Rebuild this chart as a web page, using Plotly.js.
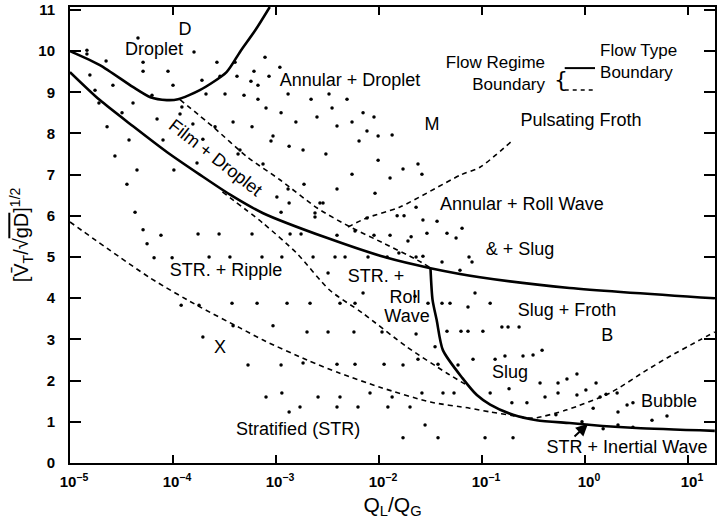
<!DOCTYPE html>
<html><head><meta charset="utf-8">
<script src="https://cdn.plot.ly/plotly-3.0.1.min.js"></script>
<style>body{margin:0;background:#fff}#chart{width:718px;height:526px}</style>
</head><body><div id="chart"></div>
<script>
// ---- Flow type boundaries (solid) ----
const dropletBoundX = [1e-5, 1.95e-5, 4.07e-5, 6.03e-5, 8.71e-5, 1.12e-4, 1.82e-4, 3.31e-4, 4.47e-4, 6.31e-4, 8.7e-4];
const dropletBoundY = [10.0, 9.66, 9.13, 8.88, 8.81, 8.83, 9.05, 9.49, 9.98, 10.51, 11.07];
const filmBoundX = [1e-5, 1.95e-5, 4.07e-5, 8.71e-5, 1.82e-4, 3.55e-4, 7.41e-4, 3.16e-3, 1.20e-2, 3.16e-2, 9.55e-2, 0.708, 18.2];
const filmBoundY = [9.49, 8.81, 8.18, 7.55, 7.00, 6.52, 6.07, 5.46, 4.98, 4.73, 4.51, 4.25, 4.00];
const slugBoundX = [3.16e-2, 3.31e-2, 3.63e-2, 4.17e-2, 6.46e-2, 8.91e-2, 0.120, 0.200, 0.339, 0.708, 1.48, 3.16, 18.2];
const slugBoundY = [4.73, 3.96, 3.47, 2.74, 2.06, 1.65, 1.42, 1.17, 1.04, 0.97, 0.90, 0.85, 0.78];
// ---- Flow regime boundaries (dashed) ----
const lowerDashX = [1e-5, 6.03e-5, 1.82e-4, 4.47e-4, 7.41e-4, 2.0e-3, 4.17e-3, 1.02e-2, 3.16e-2, 7.59e-2, 0.120, 0.200, 0.275, 0.342, 0.668, 1.75, 4.0, 6.25, 13.1, 18.2];
const lowerDashY = [5.85, 4.49, 3.79, 3.28, 2.99, 2.50, 2.18, 1.84, 1.48, 1.33, 1.24, 1.15, 1.09, 1.10, 1.29, 1.70, 2.26, 2.55, 2.99, 3.18];
const filmDashX = [1.17e-4, 2.45e-4, 5.25e-4, 1.10e-3, 2.51e-3, 5.25e-3, 1.10e-2, 2.34e-2, 3.16e-2];
const filmDashY = [8.82, 8.16, 7.43, 6.87, 6.19, 5.73, 5.34, 4.93, 4.74];
const frothDashX = [5.01e-3, 7.59e-3, 1.58e-2, 6.17e-2, 9.55e-2, 0.200];
const frothDashY = [5.73, 5.95, 6.21, 6.99, 7.18, 7.84];
const rippleDashX = [3.02e-4, 7.41e-4, 1.58e-3, 3.31e-3, 6.92e-3, 1.86e-2, 4.57e-2, 7.59e-2];
const rippleDashY = [6.58, 5.83, 5.10, 4.20, 3.64, 2.82, 2.18, 1.85];
// ---- Experimental points ----
const pointsX = [1.46e-5,1.46e-5,4.57e-5,1.60e-4,2.24e-5,5.12e-5,5.12e-5,8.94e-5,2.67e-4,4.00e-4,1.56e-5,2.61e-5,1.00e-4,1.91e-4,2.86e-4,4.18e-4,1.75e-5,6.25e-5,2.09e-4,3.20e-4,1.91e-5,4.09e-5,1.22e-4,3.20e-5,7.00e-5,1.56e-4,2.56e-4,3.83e-4,2.29e-5,3.74e-5,1.95e-4,2.73e-5,4.47e-5,1.02e-4,1.71e-4,4.28e-4,4.89e-4,1.17e-4,8.00e-5,4.47e-4,1.87e-3,1.31e-3,1.02e-3,1.12e-3,2.39e-3,7.82e-4,1.09e-3,5.71e-4,6.11e-4,6.68e-4,8.55e-4,6.68e-4,1.31e-3,2.19e-3,3.27e-3,4.89e-3,8.00e-4,1.12e-3,2.50e-3,3.50e-3,1.56e-3,3.91e-3,5.47e-3,7.00e-3,8.94e-3,5.85e-4,9.35e-4,8.94e-4,7.64e-3,9.80e-3,1.34e-2,6.40e-3,1.34e-3,1.83e-3,3.05e-3,9.80e-3,1.71e-2,2.39e-2,2.61e-2,7.48e-4,5.47e-3,1.28e-2,3.91e-3,9.15e-3,2.86e-3,2.29e-2,1.50e-2,1.75e-2,7.64e-3,2.67e-2,3.66e-2,2.39e-3,5.85e-3,1.28e-2,2.05e-2,2.92e-2,4.57e-2,5.60e-2,1.91e-2,3.91e-3,8.94e-3,2.29e-3,3.74e-3,4.68e-3,7.82e-3,1.20e-2,2.29e-2,1.56e-2,4.09e-2,1.34e-3,2.67e-3,5.85e-4,1.37e-3,1.75e-3,6.40e-2,7.48e-2,6.11e-2,3.57e-4,7.31e-4,1.14e-3,3.20e-3,7.00e-3,5.85e-3,4.18e-3,2.24e-2,2.99e-2,7.31e-2,3.74e-4,6.55e-4,1.28e-3,2.14e-3,9.35e-4,2.00e-3,3.20e-3,5.71e-3,1.07e-2,2.29e-2,3.83e-4,3.57e-5,4.28e-5,5.12e-5,7.64e-5,1.75e-4,2.80e-4,5.60e-5,6.55e-5,9.80e-5,2.24e-4,1.20e-4,1.79e-4,1.95e-4,2.67e-2,8.00e-2,8.55e-2,1.20e-1,4.09e-2,4.89e-2,4.57e-2,6.25e-2,7.31e-2,1.02e-1,1.56e-1,1.79e-1,2.29e-1,3.50e-2,8.18e-2,1.34e-1,1.67e-1,2.50e-1,3.13e-1,3.83e-1,1.71e-2,2.39e-2,5.85e-2,5.35e-4,1.12e-3,1.83e-3,3.91e-3,5.85e-3,1.12e-2,3.74e-2,8.00e-4,1.14e-3,2.56e-3,4.18e-3,8.18e-3,1.34e-2,2.61e-2,4.18e-2,5.35e-2,1.34e-3,1.71e-3,3.91e-3,6.25e-3,1.22e-2,2.00e-2,2.80e-2,1.71e-2,3.74e-2,3.66e-1,5.47e-1,6.68e-1,8.35e-1,1.28,1.83e-1,1.20e-1,1.95e-1,2.73e-1,4.09e-1,5.47e-1,8.35e-1,1.02,1.60,2.05,1.20,1.40,5.22e-1,2.09,2.56,2.92,4.47,6.25,9.35e-1,2.09,2.92,1.07e-1,2.00e-1,1.50];
const pointsY = [10.02,9.93,10.32,9.98,9.76,9.73,9.51,9.51,9.73,9.73,9.42,9.17,9.17,9.29,9.39,9.39,9.05,8.93,8.96,8.96,8.74,8.74,8.64,8.50,8.35,8.23,8.16,8.28,8.16,7.84,7.86,7.45,7.11,7.11,7.28,7.50,8.93,8.47,7.84,7.60,6.77,6.65,6.46,6.09,6.07,9.85,9.61,9.27,9.51,9.17,9.39,8.83,8.96,8.83,8.96,8.83,8.62,8.50,8.40,8.62,8.28,8.18,8.28,8.50,8.40,8.16,7.94,7.82,8.06,7.94,7.96,7.82,7.69,7.60,7.50,7.35,7.14,7.26,7.01,7.26,7.01,6.92,6.65,6.55,6.31,6.21,6.00,6.00,5.95,5.90,5.87,5.97,5.63,5.53,5.49,5.58,5.58,5.46,5.39,5.53,5.53,5.00,5.00,5.00,5.00,5.00,5.00,5.10,4.88,6.31,6.31,5.56,5.56,5.56,5.70,5.00,4.68,5.00,5.00,5.00,4.61,4.13,3.88,3.88,4.05,3.88,3.79,3.88,3.88,3.88,3.88,3.33,3.18,3.18,3.18,3.18,3.13,3.33,6.77,6.09,5.66,5.53,5.56,5.56,5.32,4.98,4.98,5.00,3.83,3.83,3.06,5.02,4.88,4.13,3.88,3.88,3.88,3.20,3.20,3.20,3.20,3.30,3.30,3.30,2.82,2.52,2.52,2.60,2.60,2.62,2.74,2.38,2.52,2.38,2.38,2.38,2.43,2.40,2.40,2.40,2.40,1.60,1.70,1.60,1.60,1.70,1.60,1.70,1.70,1.70,1.24,1.36,1.36,1.36,1.36,1.36,0.92,0.61,0.61,1.94,1.94,2.04,2.16,1.94,1.80,1.70,1.46,1.46,1.60,1.70,1.65,1.77,1.67,1.70,1.33,1.60,1.17,1.24,1.41,1.46,1.04,1.14,1.00,0.92,0.87,0.61,0.61,0.83];
// ---- Axis ticks ----
const xTickVals = [1e-5, 1e-4, 1e-3, 1e-2, 1e-1, 1, 10];
const xTickText = ['10<sup>−5</sup>','10<sup>−4</sup>','10<sup>−3</sup>','10<sup>−2</sup>','10<sup>−1</sup>','10<sup>0</sup>','10<sup>1</sup>'];
const yTickVals = [0,1,2,3,4,5,6,7,8,9,10,11];
// ---- Region labels ----
const labelText = ['D','Droplet','Annular + Droplet','M','Pulsating Froth','Annular + Roll Wave','&amp; + Slug','Slug + Froth','B','STR. + Ripple','STR. +','Roll','Wave','X','Slug','Bubble','STR + Inertial Wave','Stratified (STR)'];
const labelX = [1.31e-4,6.55e-5,5.22e-3,3.27e-2,0.914,0.244,0.234,0.668,1.64,3.27e-4,9.35e-3,1.79e-2,1.87e-2,2.86e-4,0.187,6.55,2.56,1.64e-3];
const labelY = [10.51,10.02,9.25,8.20,8.28,6.24,5.17,3.67,3.06,4.64,4.51,4.00,3.54,2.79,2.18,1.48,0.36,0.80];
// ---- Key labels ----
const keyText = ['Flow Regime<br>Boundary', 'Flow Type<br>Boundary'];
const keyX = [0.409, 1.40];
const keyY = [9.42, 9.72];

const FONT = 'Liberation Sans, Arial, Helvetica, sans-serif';
function curve(x, y, dashed) {
  return {x: x, y: y, type: 'scatter', mode: 'lines', hoverinfo: 'skip',
    line: {color: '#000', width: dashed ? 1.6 : 2.6, dash: dashed ? '5px,4px' : 'solid', shape: 'spline', smoothing: 0.7}};
}
const traces = [
  {x: pointsX, y: pointsY, type: 'scatter', mode: 'markers', marker: {color: '#000', size: 3.5}},
  curve(dropletBoundX, dropletBoundY, false),
  curve(filmBoundX, filmBoundY, false),
  curve(slugBoundX, slugBoundY, false),
  curve(lowerDashX, lowerDashY, true),
  curve(filmDashX, filmDashY, true),
  curve(frothDashX, frothDashY, true),
  curve(rippleDashX, rippleDashY, true),
  {x: labelX, y: labelY, text: labelText, type: 'scatter', mode: 'text', textposition: 'middle center',
    textfont: {family: FONT, size: 18, color: '#000'}, cliponaxis: false},
  {x: [keyX[0]], y: [keyY[0]], text: [keyText[0]], type: 'scatter', mode: 'text', textposition: 'middle left',
    textfont: {family: FONT, size: 17, color: '#000'}, cliponaxis: false},
  {x: [keyX[1]], y: [keyY[1]], text: [keyText[1]], type: 'scatter', mode: 'text', textposition: 'middle right',
    textfont: {family: FONT, size: 17, color: '#000'}, cliponaxis: false}
];
const annotations = [
  {x: -3.583, y: 7.40, xref: 'x', yref: 'y', text: 'Film + Droplet', textangle: 38, showarrow: false,
    font: {family: FONT, size: 18, color: '#000'}},
  {x: 0.029, y: 0.95, xref: 'x', yref: 'y', text: '', showarrow: true, ax: -15, ay: 14,
    arrowhead: 2, arrowsize: 1.2, arrowwidth: 2, arrowcolor: '#000', standoff: 0},
  {x: 0.761, y: 0.842, xref: 'paper', yref: 'paper', text: '{', showarrow: false,
    xanchor: 'center', yanchor: 'middle', font: {family: 'DejaVu Sans', size: 22, color: '#000'}}
];

const layout = {
  width: 718, height: 526,
  margin: {l: 70, r: 3, t: 7, b: 63},
  paper_bgcolor: '#fff', plot_bgcolor: '#fff',
  showlegend: false,
  font: {family: FONT, color: '#000', size: 16},
  xaxis: {type: 'log', range: [-5, 1.262], tickvals: xTickVals, ticktext: xTickText,
    ticks: 'inside', ticklen: 8, tickwidth: 2, tickcolor: '#000', mirror: 'ticks',
    showline: true, linewidth: 2, linecolor: '#000', showgrid: false, zeroline: false,
    tickfont: {family: FONT, size: 15, weight: 'bold', color: '#000'}, ticklabelstandoff: 4, ticklabelshift: 4,
    title: {text: 'Q<sub>L</sub>/Q<sub>G</sub>', font: {family: FONT, size: 21, color: '#000'}, standoff: 8}},
  yaxis: {range: [0, 11.07], tickvals: yTickVals,
    ticks: 'inside', ticklen: 11, tickwidth: 2, tickcolor: '#000', mirror: 'ticks',
    showline: true, linewidth: 2, linecolor: '#000', showgrid: false, zeroline: false,
    tickfont: {family: FONT, size: 15, weight: 'bold', color: '#000'}, ticklabelstandoff: 10,
    title: {text: '[V̄<sub>T</sub>/√<span style="text-decoration:overline">gD</span>]<sup>1/2</sup>', font: {family: FONT, size: 20, color: '#000'}, standoff: 4}},
  shapes: [
    {type: 'line', xref: 'paper', yref: 'paper', x0: 0.767, x1: 0.814, y0: 0.866, y1: 0.866, line: {color: '#000', width: 2}},
    {type: 'line', xref: 'paper', yref: 'paper', x0: 0.767, x1: 0.814, y0: 0.818, y1: 0.818, line: {color: '#000', width: 1.6, dash: '4px,4px'}}
  ],
  annotations: annotations
};
Plotly.newPlot('chart', traces, layout, {staticPlot: true, displayModeBar: false});
</script></body></html>
